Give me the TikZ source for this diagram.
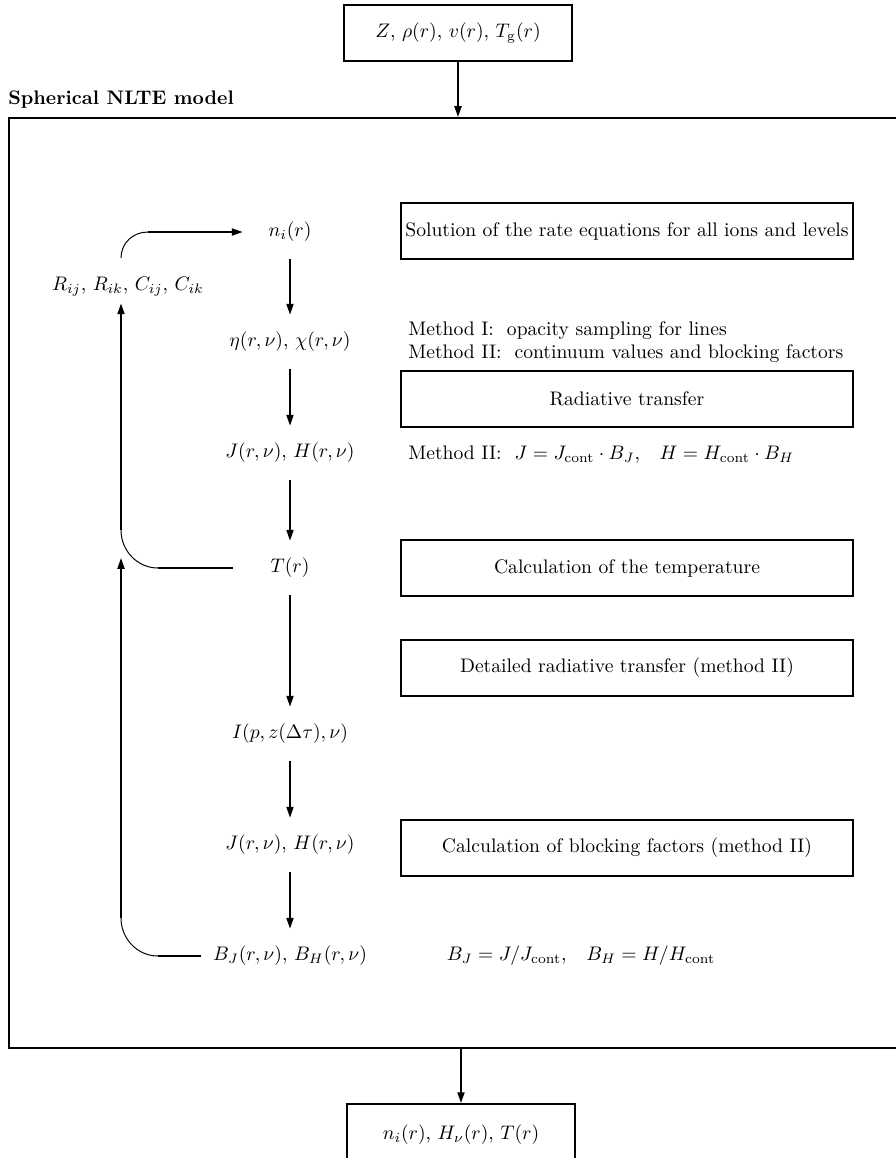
\documentclass[tikz,border=0pt]{standalone}
\usetikzlibrary{arrows.meta}
\tikzset{
  colnode/.style={minimum height=27.5pt, inner sep=3pt},
  rbox/.style={draw, line width=1pt, minimum width=230.5pt, minimum height=28.6pt, inner sep=0pt},
  iobox/.style={draw, line width=1pt, minimum width=116pt, inner sep=0pt},
  frameline/.style={draw, line width=1.2pt, inner sep=0pt},
  arr/.style={line width=0.85pt, -{Triangle[length=5.5pt,width=3.6pt]}},
  plainline/.style={line width=0.85pt},
  arcline/.style={line width=0.5pt},
  sidetext/.style={anchor=west, inner sep=0pt}
}
\begin{document}
\begin{tikzpicture}[x=0.51pt,y=-0.51pt]
\useasboundingbox (0,0) rectangle (896,1158);
% input / output boxes
\node[iobox, minimum height=28.6pt] (in) at (458,33) {$Z$, $\rho(r)$, $v(r)$, $T_{\rm g}(r)$};
\node[iobox, minimum height=31.6pt] (out) at (461,1135) {$n_i(r)$, $H_\nu(r)$, $T(r)$};
% frame
\node[anchor=base west, inner sep=0pt, font=\bfseries] (title) at (8,104) {Spherical NLTE model};
\node[frameline, anchor=north west, minimum width=460pt, minimum height=474.3pt] (frame) at (8,117) {};
\draw[arr] (in.south) -- (in.south |- frame.north);
\draw[arr] (out.north |- frame.south) -- (out.north);
% central column
\node[colnode] (ni) at (290,232) {$n_i(r)$};
\node[colnode] (eta) at (290,342) {$\eta(r,\nu)$, $\chi(r,\nu)$};
\node[colnode] (J1) at (290,453) {$J(r,\nu)$, $H(r,\nu)$};
\node[colnode] (T) at (290,568) {$T(r)$};
\node[colnode] (I) at (290,734) {$I(p,z(\Delta\tau),\nu)$};
\node[colnode] (J2) at (290,845) {$J(r,\nu)$, $H(r,\nu)$};
\node[colnode] (B) at (290,956) {$B_J(r,\nu)$, $B_H(r,\nu)$};
\draw[arr] (ni.south) -- (eta.north);
\draw[arr] (eta.south) -- (J1.north);
\draw[arr] (J1.south) -- (T.north);
\draw[arr] (T.south) -- (I.north);
\draw[arr] (I.south) -- (J2.north);
\draw[arr] (J2.south) -- (B.north);
% rates
\node (R) at (128,287) {$R_{ij}$, $R_{ik}$, $C_{ij}$, $C_{ik}$};
% right boxes
\node[rbox] (b1) at (627,231) {Solution of the rate equations for all ions and levels};
\node[rbox] (b2) at (627,399) {Radiative transfer};
\node[rbox] (b3) at (627,568) {Calculation of the temperature};
\node[rbox] (b4) at (627,668) {Detailed radiative transfer (method II)};
\node[rbox] (b5) at (627,848) {Calculation of blocking factors (method II)};
% side texts
\node[sidetext] (m1) at (408,331) {Method I:\ \ opacity sampling for lines};
\node[sidetext] (m2) at (408,354) {Method II:\ \ continuum values and blocking factors};
\node[sidetext] (m3) at (408,455) {Method II:\ \ $J=J_{\rm cont}\cdot B_J$,\quad$H=H_{\rm cont}\cdot B_H$};
\node (bj) at (581,956) {$B_J=J/J_{\rm cont}$,\quad$B_H=H/H_{\rm cont}$};
% loop from rates to n_i
\coordinate (a0) at (121,258);
\coordinate (a1) at (148,232);
\draw[arcline] (a0) .. controls (121,243) and (133,232) .. (a1);
\draw[arr] (a1) -- ([xshift=-10pt]ni.west);
% loop from T to rates
\coordinate (b0) at (121,530);
\coordinate (b1c) at (158,568);
\draw[arr] (b0) -- (121,0 |- R.south);
\draw[arcline] (b0) .. controls (121,551) and (137.6,568) .. (b1c);
\draw[plainline] (b1c) -- ([xshift=-16pt]T.west);
% loop from blocking factors
\coordinate (c0) at (121,918);
\coordinate (c1) at (158,956);
\coordinate (ctip) at (121,558);
\draw[arr] (c0) -- (ctip);
\draw[arcline] (c0) .. controls (121,939) and (137.6,956) .. (c1);
\draw[plainline] (c1) -- ([xshift=-3pt]B.west);
\end{tikzpicture}
\end{document}
